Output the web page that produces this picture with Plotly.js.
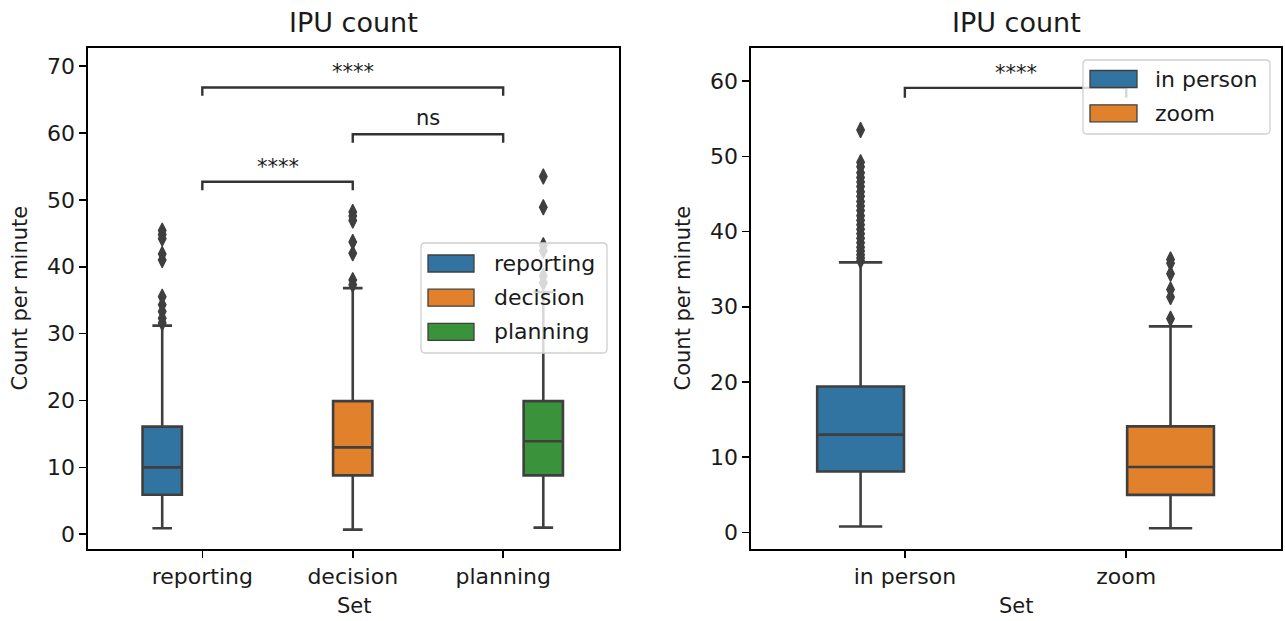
<!DOCTYPE html>
<html>
<head>
<meta charset="utf-8">
<script src="https://cdn.plot.ly/plotly-3.0.1.min.js"></script>
<style>html,body{margin:0;padding:0;background:#fff;}#chart{width:1285px;height:621px;}</style>
</head>
<body>
<div id="chart"></div>
<script>
// ---------- data ----------
const leftCategories = ['reporting', 'decision', 'planning'];
const leftQ1 = [5.9, 8.8, 8.8];
const leftMedian = [10.0, 13.0, 13.9];
const leftQ3 = [16.1, 19.9, 19.9];
const leftLowerWhisker = [0.9, 0.7, 1.0];
const leftUpperWhisker = [31.2, 36.8, 36.2];
const leftOutliers = [
  [45.4, 44.8, 44.2, 41.9, 41.0, 35.5, 34.3, 33.3, 32.3, 31.6],
  [48.2, 47.6, 46.9, 43.7, 42.0, 38.0, 37.3],
  [53.5, 48.9, 43.2, 42.4, 38.6, 37.6]
];
const leftBracketPairs = [[0, 1], [1, 2], [0, 2]];
const leftBracketY = [52.7, 59.8, 66.8];
const leftBracketLabels = ['****', 'ns', '****'];

const rightCategories = ['in person', 'zoom'];
const rightQ1 = [8.1, 5.0];
const rightMedian = [13.0, 8.7];
const rightQ3 = [19.4, 14.1];
const rightLowerWhisker = [0.8, 0.55];
const rightUpperWhisker = [35.9, 27.4];
const rightOutliers = [
  [53.5, 49.2, 48.6, 47.8, 47.2, 46.6, 46.0, 45.3, 44.7, 44.0, 43.4, 42.8, 42.1, 41.5, 40.9, 40.3, 39.7, 39.1, 38.5, 37.9, 37.4, 36.9, 36.5, 36.1],
  [36.3, 35.8, 34.4, 32.3, 31.3, 28.4]
];
const rightBracketPairs = [[0, 1]];
const rightBracketY = [59.1];
const rightBracketLabels = ['****'];

// ---------- style ----------
const W = 1285, H = 621;
const FONT = 'DejaVu Sans';
const TXT = '#1a1a1a';
const BOXLINE = '#3f3f3f';
const palette = ['#3274a1', '#e1812c', '#3a923a'];
const px = v => v / W;
const py = v => 1 - v / H;

const traces = [];
const shapes = [];
const annotations = [];

function addPanel(cats, q1, med, q3, lo, hi, outl, xa, ya) {
  const n = cats.length;
  const hueW = 0.8 / n;
  cats.forEach((c, i) => {
    const pos = i - 0.4 + hueW * (i + 0.5);
    traces.push({
      type: 'box', name: c, xaxis: xa, yaxis: ya, showlegend: false,
      x: [pos], q1: [q1[i]], median: [med[i]], q3: [q3[i]],
      lowerfence: [lo[i]], upperfence: [hi[i]],
      width: hueW * 0.98, whiskerwidth: 0.5,
      fillcolor: palette[i], line: {color: BOXLINE, width: 2.6},
      boxpoints: false, hoverinfo: 'y'
    });
    traces.push({
      type: 'scatter', mode: 'markers', xaxis: xa, yaxis: ya, showlegend: false,
      x: outl[i].map(() => pos), y: outl[i],
      marker: {symbol: 'diamond-tall', size: 11, color: BOXLINE, line: {color: BOXLINE, width: 1.2}},
      hoverinfo: 'y'
    });
  });
}

addPanel(leftCategories, leftQ1, leftMedian, leftQ3, leftLowerWhisker, leftUpperWhisker, leftOutliers, 'x', 'y');
addPanel(rightCategories, rightQ1, rightMedian, rightQ3, rightLowerWhisker, rightUpperWhisker, rightOutliers, 'x2', 'y2');

function addBrackets(pairs, ys, labels, xr, yr, tip, shiftStars, shiftNs) {
  pairs.forEach((p, k) => {
    const y = ys[k];
    shapes.push({
      type: 'path', xref: xr, yref: yr, layer: 'above',
      path: `M ${p[0]},${y - tip} L ${p[0]},${y} L ${p[1]},${y} L ${p[1]},${y - tip}`,
      line: {color: '#333333', width: 2.4}
    });
    annotations.push({
      xref: xr, yref: yr, x: (p[0] + p[1]) / 2, y: y, text: labels[k],
      showarrow: false, yanchor: 'bottom', yshift: labels[k] === 'ns' ? shiftNs : shiftStars,
      font: {family: FONT, size: 21, color: TXT}
    });
  });
}
addBrackets(leftBracketPairs, leftBracketY, leftBracketLabels, 'x', 'y', 1.25, 1, 2);
addBrackets(rightBracketPairs, rightBracketY, rightBracketLabels, 'x2', 'y2', 1.3, 1, 2);

// manual matplotlib-like legends
function roundedRect(x0, y0, x1, y1, r) {
  const X0 = px(x0), X1 = px(x1), Y0 = py(y0), Y1 = py(y1);
  const rx = r / W, ry = r / H;
  return `M ${X0 + rx},${Y0} L ${X1 - rx},${Y0} Q ${X1},${Y0} ${X1},${Y0 - ry} L ${X1},${Y1 + ry} Q ${X1},${Y1} ${X1 - rx},${Y1} L ${X0 + rx},${Y1} Q ${X0},${Y1} ${X0},${Y1 + ry} L ${X0},${Y0 - ry} Q ${X0},${Y0} ${X0 + rx},${Y0} Z`;
}
function addLegend(cats, frame, patchX, centers, textX) {
  shapes.push({
    type: 'path', xref: 'paper', yref: 'paper', layer: 'above',
    path: roundedRect(frame[0], frame[1], frame[2], frame[3], 4),
    fillcolor: 'rgba(255,255,255,0.8)', line: {color: '#d0d0d0', width: 1.3}
  });
  cats.forEach((c, i) => {
    shapes.push({
      type: 'rect', xref: 'paper', yref: 'paper', layer: 'above',
      x0: px(patchX[0]), x1: px(patchX[1]), y0: py(centers[i] - 8.5), y1: py(centers[i] + 8.5),
      fillcolor: palette[i], line: {color: BOXLINE, width: 1.3}
    });
    annotations.push({
      xref: 'paper', yref: 'paper', x: px(textX), y: py(centers[i]), xanchor: 'left', yanchor: 'middle',
      text: c, showarrow: false, font: {family: FONT, size: 22, color: TXT}
    });
  });
}
addLegend(leftCategories, [421, 243, 607, 353], [428, 474], [263.5, 297.7, 331.8], 492);
addLegend(rightCategories, [1083, 60, 1270, 134], [1090, 1137], [79, 113.3], 1153);

// titles
[[353.5, 'IPU count'], [1016, 'IPU count']].forEach(t => annotations.push({
  xref: 'paper', yref: 'paper', x: px(t[0]), y: py(22), xanchor: 'center', yanchor: 'middle',
  text: t[1], showarrow: false, font: {family: FONT, size: 27, color: TXT}
}));
[353.5, 1016].forEach(x => annotations.push({
  xref: 'paper', yref: 'paper', x: px(x), y: py(606), xanchor: 'center', yanchor: 'middle',
  text: 'Set', showarrow: false, font: {family: FONT, size: 21, color: TXT}
}));
[19, 682].forEach(x => annotations.push({
  xref: 'paper', yref: 'paper', x: px(x), y: py(298.5), xanchor: 'center', yanchor: 'middle',
  text: 'Count per minute', textangle: -90, showarrow: false, font: {family: FONT, size: 21, color: TXT}
}));

const axisCommon = {
  showgrid: false, zeroline: false, showline: true, mirror: true,
  linecolor: '#000', linewidth: 1.6, ticks: 'outside', ticklen: 7, tickwidth: 1.6, tickcolor: '#000',
  tickfont: {family: FONT, size: 22, color: TXT}, automargin: false, fixedrange: true
};
const yDomain = [1 - 549 / H, 1 - 48 / H];

const layout = {
  width: W, height: H, margin: {l: 0, r: 0, t: 0, b: 0},
  paper_bgcolor: '#fff', plot_bgcolor: '#fff', showlegend: false,
  font: {family: FONT, color: TXT},
  xaxis: Object.assign({}, axisCommon, {domain: [px(88), px(619)], range: [-0.76, 2.77],
    tickmode: 'array', tickvals: leftCategories.map((c, i) => i), ticktext: leftCategories}),
  yaxis: Object.assign({}, axisCommon, {domain: yDomain, range: [-2.2, 72.7], tickmode: 'linear', tick0: 0, dtick: 10}),
  xaxis2: Object.assign({}, axisCommon, {domain: [px(751), px(1281)], range: [-0.695, 1.699], anchor: 'y2',
    tickmode: 'array', tickvals: rightCategories.map((c, i) => i), ticktext: rightCategories}),
  yaxis2: Object.assign({}, axisCommon, {domain: yDomain, range: [-2.2, 64.4], anchor: 'x2', tickmode: 'linear', tick0: 0, dtick: 10}),
  shapes: shapes, annotations: annotations
};

Plotly.newPlot('chart', traces, layout, {displayModeBar: false, staticPlot: true});
</script>
</body>
</html>
